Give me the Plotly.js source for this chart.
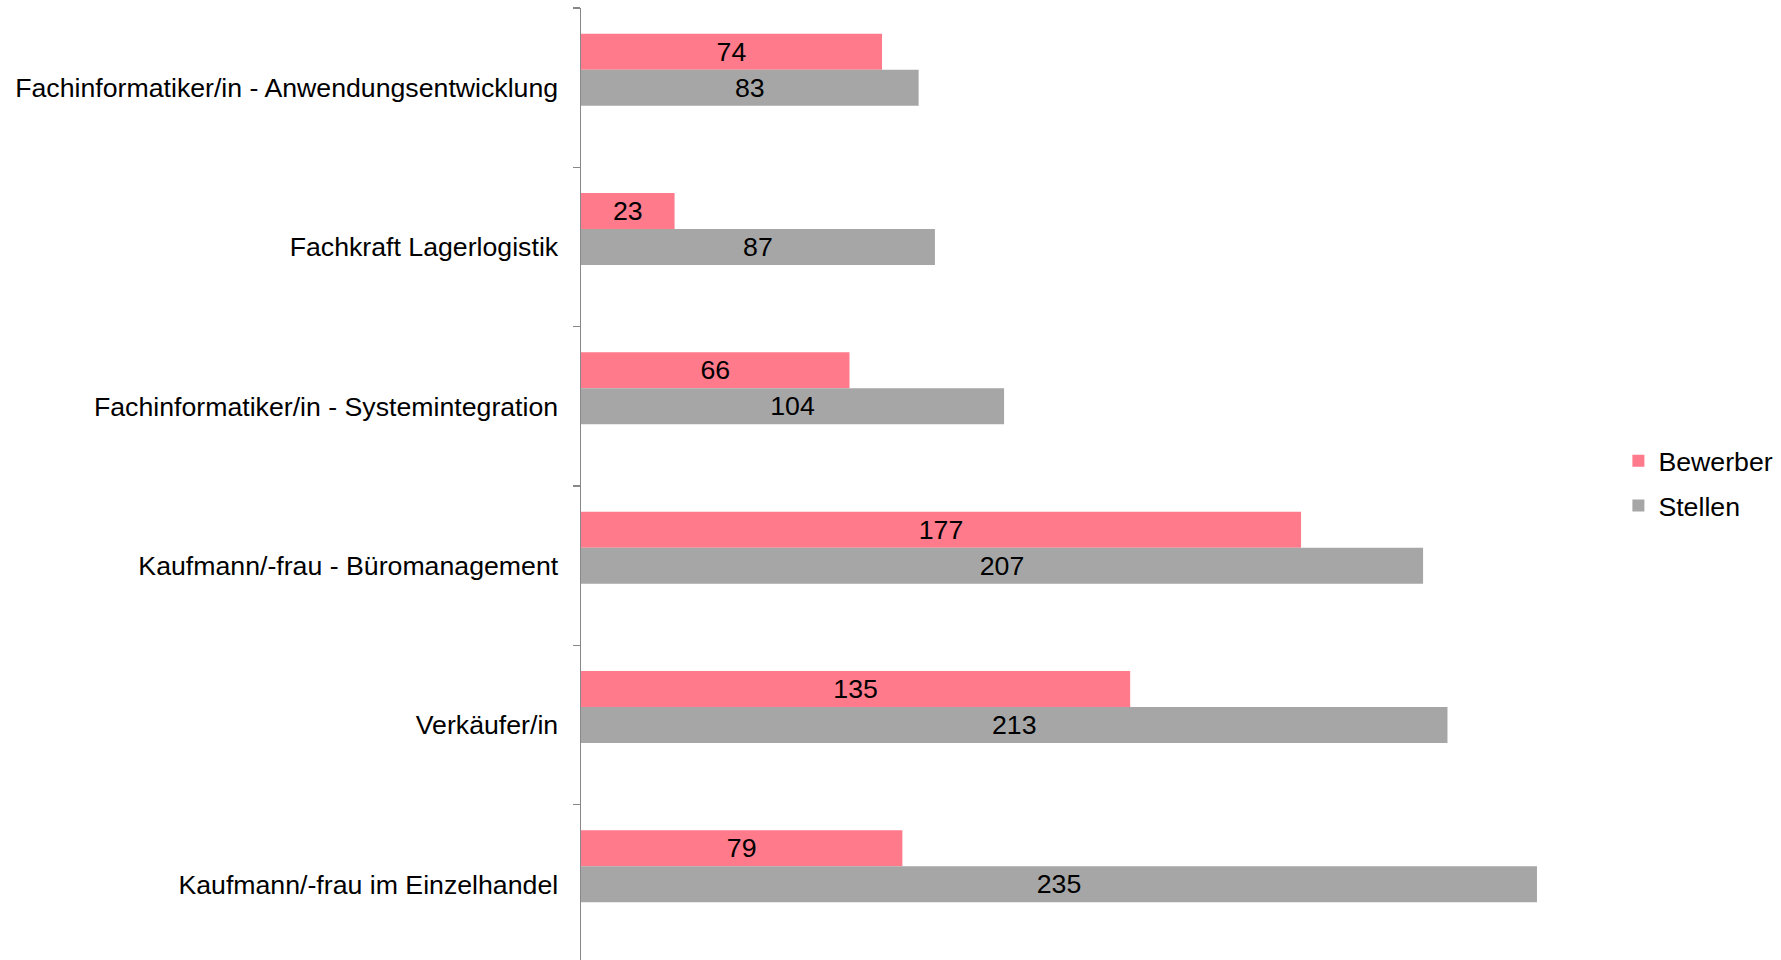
<!DOCTYPE html>
<html><head><meta charset="utf-8">
<script src="https://cdn.plot.ly/plotly-3.0.1.min.js"></script>
<style>html,body{margin:0;padding:0;overflow:hidden;background:#fff}</style>
</head><body><div id="chart"></div>
<script>
const categories = [
  "Fachinformatiker/in - Anwendungsentwicklung",
  "Fachkraft Lagerlogistik",
  "Fachinformatiker/in - Systemintegration",
  "Kaufmann/-frau - Büromanagement",
  "Verkäufer/in",
  "Kaufmann/-frau im Einzelhandel"
];
const bewerber = [74, 23, 66, 177, 135, 79];
const stellen = [83, 87, 104, 207, 213, 235];

const font = "Liberation Sans, Arial, sans-serif";
const fs = 26.7;
const traces = [
  {type:'bar', orientation:'h', name:'Bewerber', y:categories, x:bewerber, legendgroup:'a',
   marker:{color:'#FF7A8A'}, width:0.226, offset:-0.339,
   text:bewerber.map(String), textposition:'inside', insidetextanchor:'middle',
   textfont:{family:font, size:fs, color:'#000'}, hoverinfo:'x'},
  {type:'bar', orientation:'h', name:'Stellen', y:categories, x:stellen, legendgroup:'b',
   marker:{color:'#A6A6A6'}, width:0.226, offset:-0.113,
   text:stellen.map(String), textposition:'inside', insidetextanchor:'middle',
   textfont:{family:font, size:fs, color:'#000'}, hoverinfo:'x'}
];
const layout = {
  width:1781, height:964,
  margin:{l:581, r:183, t:8, b:0, pad:0},
  paper_bgcolor:'#fff', plot_bgcolor:'#fff',
  barmode:'overlay',
  font:{family:font, size:fs, color:'#000'},
  uniformtext:{minsize:fs, mode:'show'},
  xaxis:{range:[0,250], visible:false, showgrid:false, zeroline:false},
  yaxis:{type:'category', autorange:'reversed', tickson:'boundaries',
    ticks:'outside', ticklen:7, tickcolor:'#888', tickwidth:1.5,
    showline:true, linecolor:'#888', linewidth:1.5, showgrid:false,
    ticklabelstandoff:16, tickfont:{family:font, size:fs, color:'#000'}},
  showlegend:true,
  legend:{xref:'container', yref:'container', x:0.9087, y:1-437/964, xanchor:'left', yanchor:'top',
    font:{family:font, size:fs, color:'#000'}, itemwidth:30, tracegroupgap:7, traceorder:'grouped',
    bgcolor:'rgba(0,0,0,0)'}
};
Plotly.newPlot('chart', traces, layout, {displayModeBar:false, staticPlot:true});
</script></body></html>
